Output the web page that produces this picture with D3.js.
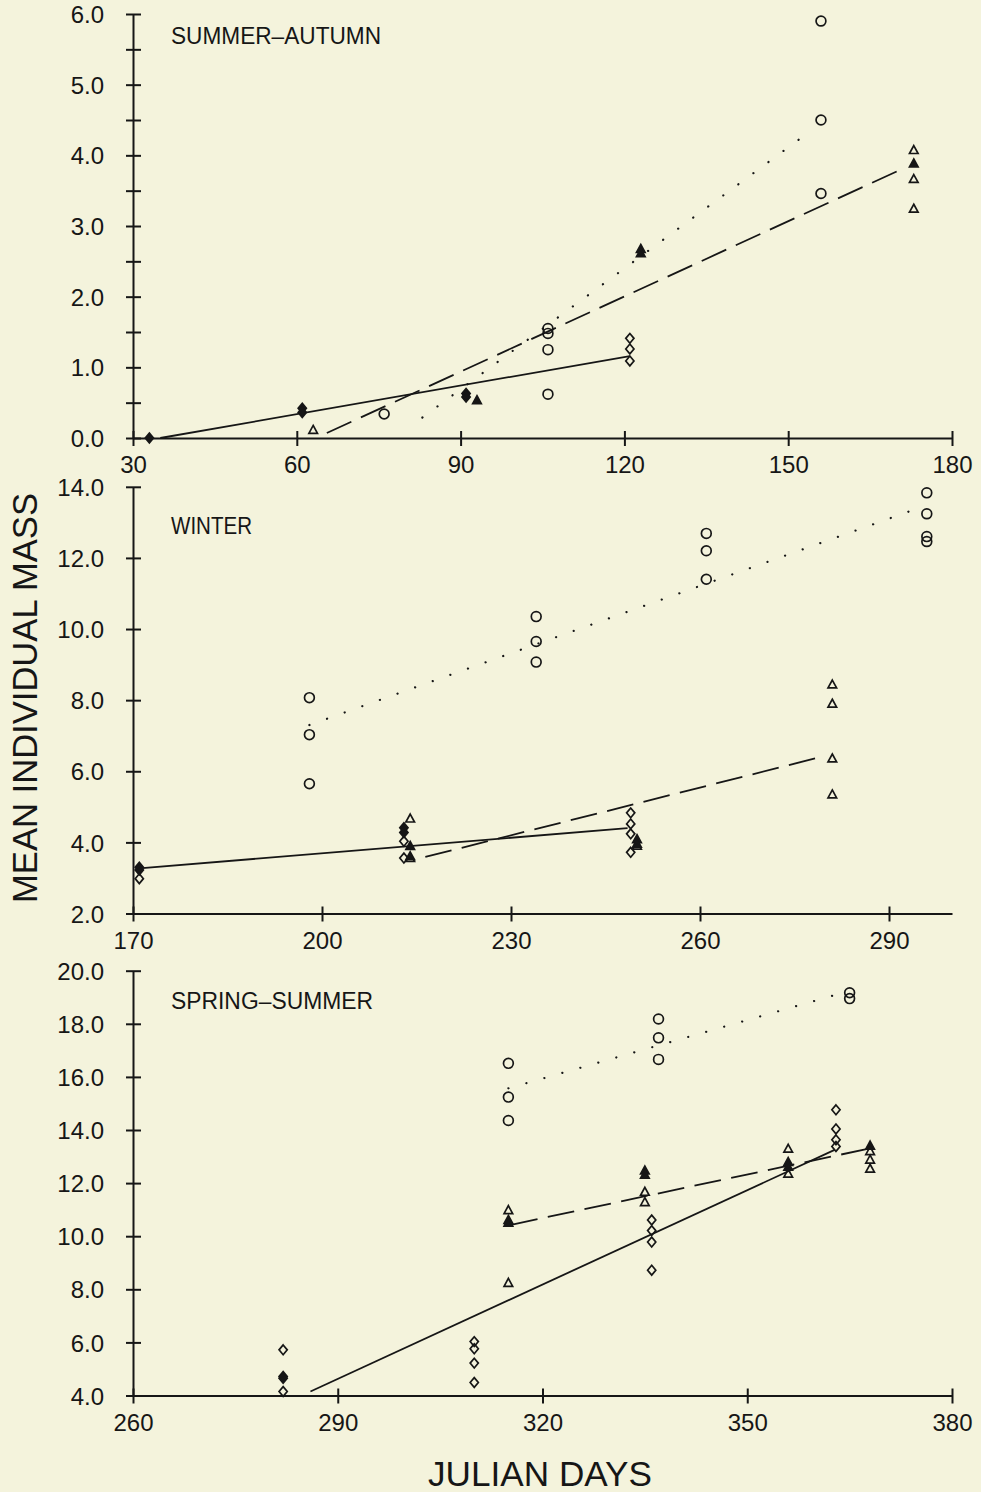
<!DOCTYPE html>
<html>
<head>
<meta charset="utf-8">
<script src="https://cdn.jsdelivr.net/npm/d3@7"></script>
<style>
  html, body { margin: 0; padding: 0; background: #f4f3dc; }
  svg { display: block; }
  text { font-family: "Liberation Sans", Arial, sans-serif; fill: #161616; }
</style>
</head>
<body>
<svg id="chart" width="981" height="1492"></svg>
<script>
// ---------- DATA ----------
// Panel 1: SUMMER-AUTUMN  [julian day, mean individual mass, filled(1)/open(0)]
const saXTicks = [30, 60, 90, 120, 150, 180];
const saYTicks = [0, 0.5, 1, 1.5, 2, 2.5, 3, 3.5, 4, 4.5, 5, 5.5, 6];
const saDiamonds = [
  [33, 0.00, 1], [61, 0.42, 1], [61, 0.36, 1], [91, 0.63, 1], [91, 0.58, 1],
  [121, 1.41, 0], [121, 1.26, 0], [121, 1.09, 0]
];
const saCircles = [
  [76, 0.34, 0], [106, 1.55, 0], [106, 1.48, 0], [106, 1.25, 0], [106, 0.62, 0],
  [156, 5.90, 0], [156, 4.50, 0], [156, 3.46, 0]
];
const saTriangles = [
  [63, 0.11, 0], [93, 0.53, 1], [123, 2.67, 1], [123, 2.61, 1],
  [173, 4.07, 0], [173, 3.88, 1], [173, 3.66, 0], [173, 3.24, 0]
];
const saSolidFit = [[35, 0.00], [121, 1.16]];
const saDashedFit = [[65.5, 0.07], [171.5, 3.83]];
const saDottedFit = [[83, 0.29], [154, 4.34]];

// Panel 2: WINTER
const wiXTicks = [170, 200, 230, 260, 290];
const wiYTicks = [2, 4, 6, 8, 10, 12, 14];
const wiDiamonds = [
  [171, 3.30, 1], [171, 3.22, 1], [171, 2.98, 0],
  [213, 4.41, 1], [213, 4.28, 1], [213, 4.03, 0], [213, 3.56, 0],
  [249, 4.83, 0], [249, 4.52, 0], [249, 4.24, 0], [249, 3.72, 0]
];
const wiCircles = [
  [198, 8.07, 0], [198, 7.03, 0], [198, 5.65, 0],
  [234, 10.35, 0], [234, 9.65, 0], [234, 9.07, 0],
  [261, 12.69, 0], [261, 12.20, 0], [261, 11.40, 0],
  [296, 13.83, 0], [296, 13.24, 0], [296, 12.60, 0], [296, 12.46, 0]
];
const wiTriangles = [
  [214, 4.66, 0], [214, 3.89, 1], [214, 3.60, 1], [214, 3.55, 0],
  [250, 4.08, 1], [250, 3.95, 1], [250, 3.90, 0],
  [281, 8.43, 0], [281, 7.89, 0], [281, 6.35, 0], [281, 5.34, 0]
];
const wiSolidFit = [[171, 3.27], [248.5, 4.40]];
const wiDashedFit = [[216.4, 3.59], [279.6, 6.42]];
const wiDottedFit = [[198, 7.30], [295, 13.42]];

// Panel 3: SPRING-SUMMER
const ssXTicks = [260, 290, 320, 350, 380];
const ssYTicks = [4, 6, 8, 10, 12, 14, 16, 18, 20];
const ssDiamonds = [
  [282, 5.72, 0], [282, 4.72, 1], [282, 4.65, 1], [282, 4.15, 0],
  [310, 6.03, 0], [310, 5.76, 0], [310, 5.22, 0], [310, 4.49, 0],
  [336, 10.61, 0], [336, 10.21, 0], [336, 9.78, 0], [336, 8.72, 0],
  [363, 14.76, 0], [363, 14.04, 0], [363, 13.63, 0], [363, 13.38, 0]
];
const ssCircles = [
  [315, 16.51, 0], [315, 15.24, 0], [315, 14.36, 0],
  [337, 18.18, 0], [337, 17.47, 0], [337, 16.66, 0],
  [365, 19.17, 0], [365, 18.95, 0]
];
const ssTriangles = [
  [315, 10.97, 0], [315, 10.60, 1], [315, 10.50, 1], [315, 8.23, 0],
  [335, 12.46, 1], [335, 12.30, 1], [335, 11.66, 0], [335, 11.27, 0],
  [356, 13.28, 0], [356, 12.78, 1], [356, 12.60, 1], [356, 12.34, 0],
  [368, 13.40, 1], [368, 13.19, 0], [368, 12.87, 0], [368, 12.53, 0]
];
const ssSolidFit = [[286, 4.15], [362.8, 13.25]];
const ssDashedFit = [[315.4, 10.43], [368.2, 13.32]];
const ssDottedFit = [[315, 15.57], [363.5, 19.13]];

const panelTitles = ["SUMMER–AUTUMN", "WINTER", "SPRING–SUMMER"];
const yAxisTitle = "MEAN INDIVIDUAL MASS";
const xAxisTitle = "JULIAN DAYS";

// ---------- LAYOUT ----------
const INK = "#161616";
const svg = d3.select("#chart");

const panels = [
  { title: panelTitles[0], xDomain: [30, 180], yDomain: [0, 6], yRange: [438, 14],
    xTicks: saXTicks, yTicks: saYTicks, titleY: 43.5, titleLen: 210,
    diamonds: saDiamonds, circles: saCircles, triangles: saTriangles,
    solid: saSolidFit, dashed: saDashedFit, dotted: saDottedFit },
  { title: panelTitles[1], xDomain: [170, 300], yDomain: [2, 14], yRange: [913.5, 486.8],
    xTicks: wiXTicks, yTicks: wiYTicks, titleY: 534, titleLen: 81,
    diamonds: wiDiamonds, circles: wiCircles, triangles: wiTriangles,
    solid: wiSolidFit, dashed: wiDashedFit, dotted: wiDottedFit },
  { title: panelTitles[2], xDomain: [260, 380], yDomain: [4, 20], yRange: [1395.5, 970.7],
    xTicks: ssXTicks, yTicks: ssYTicks, titleY: 1009, titleLen: 202,
    diamonds: ssDiamonds, circles: ssCircles, triangles: ssTriangles,
    solid: ssSolidFit, dashed: ssDashedFit, dotted: ssDottedFit }
];

const X0 = 133, X1 = 952;

function markerPath(type, cx, cy) {
  if (type === "circle") {
    const r = 4.9;
    return `M${cx - r},${cy}a${r},${r} 0 1,0 ${2 * r},0a${r},${r} 0 1,0 ${-2 * r},0Z`;
  }
  if (type === "diamond") {
    const w = 4.1, h = 4.9;
    return `M${cx},${cy - h}L${cx + w},${cy}L${cx},${cy + h}L${cx - w},${cy}Z`;
  }
  // triangle
  const w = 4.3;
  return `M${cx},${cy - 4.8}L${cx + w},${cy + 3.1}L${cx - w},${cy + 3.1}Z`;
}

panels.forEach(p => {
  const x = d3.scaleLinear().domain(p.xDomain).range([X0, X1]);
  const y = d3.scaleLinear().domain(p.yDomain).range(p.yRange);
  const g = svg.append("g");
  const axisY = p.yRange[0];

  // x axis
  const xa = g.append("g").attr("transform", `translate(0,${axisY})`)
    .call(d3.axisBottom(x).tickValues(p.xTicks).tickSizeOuter(0).tickSizeInner(0)
      .tickFormat(d3.format("d")));
  xa.select(".domain").attr("stroke", INK).attr("stroke-width", 2);
  xa.selectAll(".tick line").attr("stroke", INK).attr("stroke-width", 2)
    .attr("y1", -7).attr("y2", 8);
  xa.selectAll(".tick text").attr("y", 35).attr("dy", null)
    .attr("font-size", 24).attr("fill", INK)
    .style("font-family", '"Liberation Sans", Arial, sans-serif');

  // y axis
  const ya = g.append("g").attr("transform", `translate(${X0},0)`)
    .call(d3.axisLeft(y).tickValues(p.yTicks).tickSizeOuter(0).tickSizeInner(0)
      .tickFormat(d => (Math.abs(d % 1) < 1e-9 ? d.toFixed(1) : "")));
  ya.select(".domain").attr("stroke", INK).attr("stroke-width", 2);
  ya.selectAll(".tick line").attr("stroke", INK).attr("stroke-width", 2)
    .attr("x1", -7).attr("x2", 8);
  ya.selectAll(".tick text").attr("x", -29).attr("dy", "0.36em")
    .attr("font-size", 24).attr("fill", INK)
    .style("font-family", '"Liberation Sans", Arial, sans-serif');

  // panel title
  g.append("text").attr("x", 171).attr("y", p.titleY)
    .attr("font-size", 23).attr("textLength", p.titleLen)
    .attr("lengthAdjust", "spacingAndGlyphs").text(p.title);

  // fitted lines
  const line = d3.line().x(d => x(d[0])).y(d => y(d[1]));
  g.append("path").datum(p.solid).attr("d", line)
    .attr("fill", "none").attr("stroke", INK).attr("stroke-width", 1.8);
  g.append("path").datum(p.dashed).attr("d", line)
    .attr("fill", "none").attr("stroke", INK).attr("stroke-width", 1.8)
    .attr("stroke-dasharray", "27,10.5");
  g.append("path").datum(p.dotted).attr("d", line)
    .attr("fill", "none").attr("stroke", INK).attr("stroke-width", 2.2)
    .attr("stroke-linecap", "round").attr("stroke-dasharray", "0.1,18.6");

  // markers
  const groups = [["circle", p.circles], ["diamond", p.diamonds], ["triangle", p.triangles]];
  groups.forEach(([type, data]) => {
    g.append("g").selectAll("path").data(data).join("path")
      .attr("d", d => markerPath(type, x(d[0]), y(d[1])))
      .attr("fill", d => d[2] ? INK : "none")
      .attr("stroke", INK)
      .attr("stroke-width", 1.7)
      .attr("stroke-linejoin", "miter");
  });
});

// axis titles
svg.append("text")
  .attr("transform", "translate(37,698) rotate(-90)")
  .attr("text-anchor", "middle").attr("font-size", 35)
  .attr("textLength", 410).attr("lengthAdjust", "spacingAndGlyphs")
  .text(yAxisTitle);

svg.append("text")
  .attr("x", 540).attr("y", 1486)
  .attr("text-anchor", "middle").attr("font-size", 35)
  .attr("textLength", 224).attr("lengthAdjust", "spacingAndGlyphs")
  .text(xAxisTitle);
</script>
</body>
</html>
